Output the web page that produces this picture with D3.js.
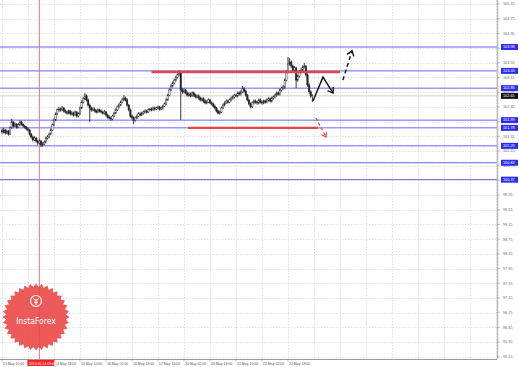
<!DOCTYPE html>
<html>
<head>
<meta charset="utf-8">
<script src="https://cdn.jsdelivr.net/npm/d3@7"></script>
<style>
  body { margin: 0; background: #fff; }
  svg { display: block; font-family: "Liberation Sans", Arial, sans-serif; }
</style>
</head>
<body>
<svg id="chart"></svg>
<script>
// USDJPY H1, 13 May 10:00 .. 23 May (one close per hour, bar 0 = 13 May 10:00)
const closes = [
  101.67,101.72,101.64,101.69,101.61,101.78,101.94,101.83,101.88,101.80,
  101.86,101.94,101.88,101.83,101.80,101.75,101.72,101.61,101.53,101.45,
  101.50,101.42,101.37,101.42,101.31,101.34,101.39,101.50,101.53,101.61,
  101.72,101.86,101.99,102.16,102.27,102.29,102.27,102.32,102.24,102.21,
  102.18,102.24,102.16,102.18,102.13,102.21,102.10,102.16,102.32,102.48,
  102.57,102.65,102.54,102.40,102.32,102.27,102.29,102.24,102.21,102.27,
  102.24,102.21,102.18,102.21,102.13,102.07,102.05,102.02,102.10,102.18,
  102.27,102.35,102.40,102.48,102.54,102.59,102.54,102.40,102.27,102.10,
  102.05,101.99,102.05,102.10,102.16,102.13,102.18,102.21,102.24,102.21,
  102.27,102.29,102.27,102.32,102.29,102.32,102.35,102.29,102.32,102.37,
  102.43,102.54,102.67,102.81,102.92,103.00,103.08,103.16,103.22,103.27,
  102.81,102.76,102.81,102.73,102.67,102.70,102.65,102.73,102.67,102.62,
  102.65,102.59,102.54,102.57,102.51,102.46,102.48,102.54,102.46,102.43,
  102.37,102.32,102.24,102.18,102.21,102.32,102.40,102.46,102.51,102.48,
  102.54,102.59,102.62,102.67,102.65,102.73,102.70,102.76,102.84,102.78,
  102.67,102.54,102.43,102.35,102.46,102.51,102.48,102.46,102.54,102.48,
  102.46,102.51,102.48,102.54,102.57,102.51,102.59,102.62,102.67,102.73,
  102.70,102.81,102.86,102.89,103.08,103.30,103.52,103.57,103.46,103.35,
  103.41,103.08,103.19,103.30,103.35,103.44,103.46,103.22,102.95,102.76,
  102.65,102.65
];
const highs = [
  101.76,101.78,101.75,101.73,101.72,101.82,102.02,101.96,101.92,101.91,
  101.91,101.98,101.97,101.90,101.86,101.83,101.79,101.75,101.64,101.57,
  101.55,101.53,101.46,101.47,101.45,101.39,101.44,101.54,101.58,101.65,
  101.76,101.90,102.04,102.20,102.31,102.35,102.33,102.37,102.35,102.28,
  102.25,102.28,102.27,102.23,102.22,102.25,102.24,102.20,102.36,102.53,
  102.62,102.73,102.69,102.58,102.44,102.36,102.34,102.33,102.28,102.31,
  102.30,102.28,102.25,102.26,102.24,102.17,102.12,102.09,102.14,102.22,
  102.31,102.39,102.45,102.52,102.59,102.67,102.63,102.58,102.43,102.30,
  102.14,102.09,102.09,102.14,102.20,102.20,102.22,102.25,102.28,102.28,
  102.31,102.33,102.33,102.36,102.36,102.36,102.39,102.38,102.36,102.41,
  102.47,102.58,102.71,102.85,102.96,103.04,103.12,103.20,103.26,103.35,
  103.30,102.86,102.85,102.84,102.77,102.75,102.74,102.77,102.77,102.71,
  102.69,102.69,102.63,102.61,102.61,102.55,102.53,102.58,102.57,102.50,
  102.47,102.41,102.35,102.27,102.25,102.36,102.44,102.50,102.55,102.55,
  102.58,102.63,102.66,102.71,102.71,102.77,102.77,102.80,102.92,102.88,
  102.82,102.70,102.57,102.47,102.50,102.55,102.55,102.52,102.58,102.58,
  102.52,102.55,102.55,102.58,102.61,102.61,102.63,102.66,102.71,102.77,
  102.77,102.85,102.90,102.94,103.12,103.35,103.71,103.68,103.61,103.50,
  103.46,103.44,103.23,103.34,103.40,103.48,103.54,103.49,103.26,102.99,
  102.80,102.69
];
const lows = [
  101.62,101.63,101.60,101.61,101.57,101.59,101.75,101.79,101.80,101.76,
  101.77,101.83,101.84,101.79,101.76,101.71,101.68,101.57,101.49,101.41,
  101.42,101.38,101.32,101.33,101.26,101.27,101.31,101.36,101.46,101.50,
  101.58,101.69,101.83,101.96,102.13,102.22,102.22,102.24,102.20,102.17,
  102.14,102.15,102.12,102.12,102.09,102.10,102.06,102.07,102.13,102.29,
  102.44,102.53,102.50,102.36,101.94,102.22,102.23,102.20,102.17,102.18,
  102.20,102.17,102.14,102.14,102.09,102.03,102.01,101.97,101.99,102.07,
  102.15,102.24,102.31,102.37,102.45,102.51,102.50,102.36,102.23,102.06,
  102.01,101.88,101.95,102.02,102.07,102.09,102.10,102.14,102.17,102.17,
  102.18,102.23,102.23,102.24,102.25,102.26,102.28,102.25,102.26,102.28,
  102.34,102.40,102.51,102.64,102.78,102.88,102.96,103.04,103.12,103.18,
  101.99,102.71,102.72,102.69,102.63,102.63,102.61,102.62,102.63,102.58,
  102.58,102.55,102.50,102.50,102.47,102.42,102.42,102.45,102.42,102.39,
  102.33,102.28,102.20,102.15,102.14,102.18,102.29,102.36,102.43,102.44,
  102.45,102.50,102.55,102.58,102.61,102.61,102.66,102.66,102.72,102.74,
  102.63,102.50,102.39,102.31,102.32,102.42,102.44,102.41,102.42,102.44,
  102.41,102.42,102.44,102.45,102.50,102.47,102.47,102.55,102.58,102.63,
  102.66,102.66,102.77,102.82,102.85,103.04,103.26,103.47,103.41,103.30,
  103.30,102.86,103.03,103.15,103.26,103.31,103.40,103.18,102.90,102.71,
  102.60,102.48
];
const firstOpen = 101.70;

// horizontal support / resistance levels (blue) and the current bid
const levels = [103.98, 103.33, 102.86, 101.99, 101.78, 101.29, 100.83, 100.37];
const bid = 102.65;

// right axis: one label every 0.40
const priceTicks = [105.15, 104.75, 104.35, 103.95, 103.55, 103.15, 102.75, 102.35,
  101.95, 101.55, 101.15, 100.75, 100.35, 99.95, 99.55, 99.15, 98.75, 98.35,
  97.95, 97.55, 97.15, 96.75, 96.35, 95.95, 95.55];

// time axis: one label every 16 bars (14 May 02:00 sits under the marker box)
const timeTicks = [0, 16, 32, 48, 64, 80, 96, 112, 128, 144, 160, 176];
const timeLabels = ["13 May 10:00", "", "14 May 18:00", "15 May 10:00",
  "16 May 02:00", "16 May 18:00", "17 May 10:00", "20 May 02:00", "20 May 18:00",
  "21 May 10:00", "22 May 02:00", "22 May 18:00"];
const markerBar = 23;          // 14 May 09:00
const markerLabel = "2013.05.14 09:00";

// analyst drawings, in [bar, price]
const redLevels = [
  { from: 92, to: 208, price: 103.30 },
  { from: 114.5, to: 194.5, price: 101.78 }
];
const zigzag = [[191.4, 102.51], [197.5, 103.16], [203.7, 102.73]];
const upArrow = [[209.8, 103.08], [215.4, 103.88]];
const downArrow = [[193.2, 102.05], [199.4, 101.53]];

const width = 519, height = 367;
const plotRight = 497, plotBottom = 359;

const svg = d3.select("#chart").attr("width", width).attr("height", height);

const x = d3.scaleLinear().domain([0, 176]).range([2, 288]);
const y = d3.scaleLinear().domain([95.55, 105.15]).range([356.8, 4]);

// grid (dotted)
const grid = svg.append("g").attr("stroke", "#cfcfcf").attr("stroke-width", 0.6)
  .attr("stroke-dasharray", "1.5,1.5");
grid.selectAll(".gy").data(priceTicks).join("line")
  .attr("x1", 0).attr("x2", plotRight)
  .attr("y1", d => Math.round(y(d)) + 0.5).attr("y2", d => Math.round(y(d)) + 0.5);
grid.selectAll(".gx").data(d3.range(0, 500, 16)).join("line")
  .attr("x1", d => Math.round(x(d)) + 0.5).attr("x2", d => Math.round(x(d)) + 0.5)
  .attr("y1", 0).attr("y2", plotBottom)
  .attr("display", d => x(d) > plotRight ? "none" : null);

// bid line
svg.append("line").attr("x1", 0).attr("x2", plotRight)
  .attr("y1", y(bid)).attr("y2", y(bid))
  .attr("stroke", "#cccccc").attr("stroke-width", 1);

// blue levels
svg.append("g").selectAll("line").data(levels).join("line")
  .attr("x1", 0).attr("x2", plotRight)
  .attr("y1", d => y(d)).attr("y2", d => y(d))
  .attr("stroke", "#6464f2").attr("stroke-width", 1);

// red time marker
svg.append("line")
  .attr("x1", x(markerBar)).attr("x2", x(markerBar))
  .attr("y1", 0).attr("y2", plotBottom)
  .attr("stroke", "#ff7070").attr("stroke-width", 1);

// candles
const bars = closes.map((c, i) => ({
  i: i,
  open: i === 0 ? firstOpen : closes[i - 1],
  close: c,
  high: highs[i],
  low: lows[i]
}));

const candles = svg.append("g");
candles.selectAll("line").data(bars).join("line")
  .attr("x1", d => x(d.i)).attr("x2", d => x(d.i))
  .attr("y1", d => y(d.high)).attr("y2", d => y(d.low))
  .attr("stroke", "#222").attr("stroke-width", 0.9);
candles.selectAll("rect").data(bars).join("rect")
  .attr("x", d => x(d.i) - 0.75)
  .attr("width", 1.5)
  .attr("y", d => y(Math.max(d.open, d.close)))
  .attr("height", d => Math.max(0.8, Math.abs(y(d.open) - y(d.close))))
  .attr("fill", d => d.close >= d.open ? "#eee" : "#222")
  .attr("stroke", "#222").attr("stroke-width", 0.4);

// red horizontal drawings
svg.append("g").selectAll("line").data(redLevels).join("line")
  .attr("x1", d => x(d.from)).attr("x2", d => x(d.to))
  .attr("y1", d => y(d.price)).attr("y2", d => y(d.price))
  .attr("stroke", "#ec4146").attr("stroke-width", 2.4);

const line = d3.line().x(d => x(d[0])).y(d => y(d[1]));

// arrowhead at the end of a polyline
function arrowHead(pts, size) {
  const a = pts[pts.length - 2], b = pts[pts.length - 1];
  const ax = x(a[0]), ay = y(a[1]), bx = x(b[0]), by = y(b[1]);
  const ang = Math.atan2(by - ay, bx - ax);
  const p1 = [bx - size * Math.cos(ang - 0.6), by - size * Math.sin(ang - 0.6)];
  const p2 = [bx - size * Math.cos(ang + 0.6), by - size * Math.sin(ang + 0.6)];
  return `M${p1}L${bx},${by}L${p2}`;
}

svg.append("path").attr("d", line(zigzag))
  .attr("fill", "none").attr("stroke", "#111").attr("stroke-width", 1.4);
svg.append("path").attr("d", arrowHead(zigzag, 6))
  .attr("fill", "none").attr("stroke", "#111").attr("stroke-width", 1.4);

svg.append("path").attr("d", line(upArrow))
  .attr("fill", "none").attr("stroke", "#111").attr("stroke-width", 1.4)
  .attr("stroke-dasharray", "4,3");
svg.append("path").attr("d", arrowHead(upArrow, 6))
  .attr("fill", "none").attr("stroke", "#111").attr("stroke-width", 1.4);

svg.append("path").attr("d", line(downArrow))
  .attr("fill", "none").attr("stroke", "#ec4146").attr("stroke-width", 1.2)
  .attr("stroke-dasharray", "3,2.5");
svg.append("path").attr("d", arrowHead(downArrow, 5))
  .attr("fill", "none").attr("stroke", "#ec4146").attr("stroke-width", 1.2);

// frame
svg.append("line").attr("x1", plotRight + 0.5).attr("x2", plotRight + 0.5)
  .attr("y1", 0).attr("y2", plotBottom).attr("stroke", "#bdbdbd").attr("stroke-width", 1.5);
svg.append("line").attr("x1", 0).attr("x2", plotRight)
  .attr("y1", plotBottom + 0.5).attr("y2", plotBottom + 0.5).attr("stroke", "#9a9a9a");

// right axis
const yAxis = svg.append("g");
yAxis.selectAll("line").data(priceTicks).join("line")
  .attr("x1", plotRight).attr("x2", plotRight + 3)
  .attr("y1", d => y(d)).attr("y2", d => y(d)).attr("stroke", "#888").attr("stroke-width", 0.5);
yAxis.selectAll("text").data(priceTicks).join("text")
  .attr("x", 503).attr("y", d => y(d) + 1.3)
  .attr("font-size", 3.8).attr("fill", "#666")
  .text(d => d.toFixed(2));

function priceBox(p, fill) {
  const g = svg.append("g");
  g.append("rect").attr("x", 501).attr("y", y(p) - 3).attr("width", 17).attr("height", 6)
    .attr("fill", fill);
  g.append("text").attr("x", 503).attr("y", y(p) + 1.3)
    .attr("font-size", 3.8).attr("fill", "#fff").text(p.toFixed(2));
}
levels.forEach(p => priceBox(p, "#2d2df2"));
priceBox(bid, "#111");

// bottom axis
const xAxis = svg.append("g");
xAxis.selectAll("line").data(timeTicks).join("line")
  .attr("x1", d => x(d)).attr("x2", d => x(d))
  .attr("y1", plotBottom).attr("y2", plotBottom + 2.5).attr("stroke", "#777").attr("stroke-width", 0.5);
xAxis.selectAll("text").data(timeTicks.filter((d, i) => timeLabels[i])).join("text")
  .attr("x", d => x(d) + 1).attr("y", 364.5)
  .attr("font-size", 3.5).attr("fill", "#555")
  .text(d => timeLabels[timeTicks.indexOf(d)]);
xAxis.append("rect").attr("x", x(markerBar) - 12).attr("y", 360)
  .attr("width", 27).attr("height", 6).attr("fill", "#ff2020");
xAxis.append("text").attr("x", x(markerBar) - 10.5).attr("y", 364.5)
  .attr("font-size", 3.5).attr("fill", "#fff").text(markerLabel);

// InstaForex seal
const cx = 36, cy = 317, teeth = 36;
const seal = d3.range(teeth * 2).map(k => {
  const r = k % 2 ? 30 : 33.5;
  const a = k / (teeth * 2) * Math.PI * 2;
  return [cx + r * Math.cos(a), cy + r * Math.sin(a)];
});
const logo = svg.append("g").attr("opacity", 0.88);
logo.append("path").attr("d", "M" + seal.join("L") + "Z").attr("fill", "#ea4444");
logo.append("circle").attr("cx", cx).attr("cy", 301).attr("r", 5.5)
  .attr("fill", "none").attr("stroke", "#fff").attr("stroke-width", 1.2);
logo.append("path").attr("d", "M36,305V299M33,298L36,301L39,298M34,302L36,303L38,302")
  .attr("fill", "none").attr("stroke", "#fff").attr("stroke-width", 1);
logo.append("text").attr("x", cx).attr("y", 324).attr("text-anchor", "middle")
  .attr("font-size", 8.5).attr("fill", "#fff").attr("font-family", "DejaVu Sans Condensed, sans-serif")
  .text("InstaForex");
</script>
</body>
</html>
